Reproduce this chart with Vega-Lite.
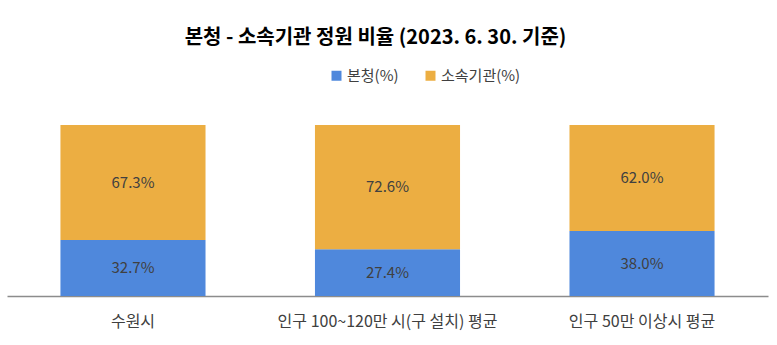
{
  "$schema": "https://vega.github.io/schema/vega-lite/v6.json",
  "autosize": "none",
  "width": 761,
  "height": 171,
  "padding": {"left": 7, "top": 125, "right": 9, "bottom": 49},
  "background": "white",
  "config": {
    "view": {"stroke": null},
    "font": "Noto Sans CJK KR"
  },
  "title": {
    "text": "본청 - 소속기관 정원 비율 (2023. 6. 30. 기준)",
    "fontSize": 20,
    "fontWeight": "bold",
    "color": "#000000",
    "anchor": "middle",
    "dx": -12,
    "offset": 20
  },
  "data": {
    "values": [
      {"group": "수원시", "series": "본청(%)", "value": 32.7},
      {"group": "수원시", "series": "소속기관(%)", "value": 67.3},
      {"group": "인구 100~120만 시(구 설치) 평균", "series": "본청(%)", "value": 27.4},
      {"group": "인구 100~120만 시(구 설치) 평균", "series": "소속기관(%)", "value": 72.6},
      {"group": "인구 50만 이상시 평균", "series": "본청(%)", "value": 38.0},
      {"group": "인구 50만 이상시 평균", "series": "소속기관(%)", "value": 62.0}
    ]
  },
  "transform": [
    {"stack": "value", "groupby": ["group"], "sort": [{"field": "series", "order": "ascending"}], "as": ["v0", "v1"]},
    {"calculate": "(datum.v0 + datum.v1) / 2", "as": "mid"},
    {"calculate": "format(datum.value, '.1f') + '%'", "as": "label"}
  ],
  "encoding": {
    "x": {
      "field": "group",
      "type": "nominal",
      "sort": null,
      "scale": {"paddingInner": 0.43, "paddingOuter": 0.21},
      "axis": {
        "title": null,
        "labelAngle": 0,
        "labelFontSize": 16,
        "labelLimit": 400,
        "labelColor": "#404040",
        "labelPadding": 17,
        "ticks": false,
        "domainColor": "#8c8c8c",
        "domainWidth": 1.5
      }
    }
  },
  "layer": [
    {
      "mark": {"type": "bar"},
      "encoding": {
        "y": {"field": "v0", "type": "quantitative", "scale": {"domain": [0, 100]}, "axis": null},
        "y2": {"field": "v1"},
        "color": {
          "field": "series",
          "type": "nominal",
          "scale": {"domain": ["본청(%)", "소속기관(%)"], "range": ["#4f88dc", "#ecae42"]},
          "legend": {
            "title": null,
            "orient": "none",
            "direction": "horizontal",
            "legendX": 322,
            "legendY": -57,
            "symbolType": "square",
            "symbolSize": 100,
            "symbolStrokeWidth": 0,
            "labelFontSize": 15,
            "labelColor": "#404040",
            "labelOffset": 3,
            "columnPadding": 24
          }
        }
      }
    },
    {
      "mark": {"type": "text", "fontSize": 15, "color": "#404040", "baseline": "middle"},
      "encoding": {
        "y": {"field": "mid", "type": "quantitative"},
        "text": {"field": "label"}
      }
    }
  ]
}
